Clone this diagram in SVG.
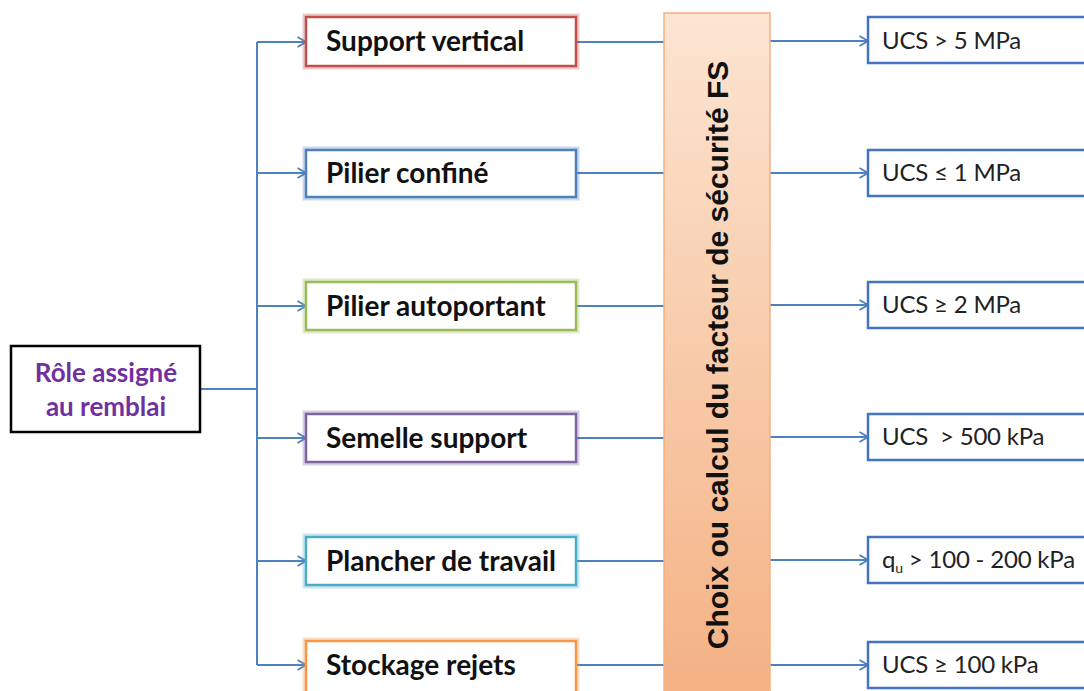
<svg xmlns="http://www.w3.org/2000/svg" width="1084" height="691" viewBox="0 0 1084 691">
<defs>
<marker id="arr" viewBox="0 0 10 12" refX="9.5" refY="6" markerWidth="10" markerHeight="12" markerUnits="userSpaceOnUse" orient="auto">
<path d="M1,1 L9.5,6 L1,11" fill="none" stroke="#4F81BD" stroke-width="1.8"/>
</marker>
<linearGradient id="og" x1="0" y1="0" x2="0" y2="1">
<stop offset="0" stop-color="#FCE5D2"/>
<stop offset="1" stop-color="#F4B183"/>
</linearGradient>
</defs>
<style>
.mid{font-family:Lato,"Liberation Sans",sans-serif;font-weight:bold;font-size:28px;fill:#111}
.rt{font-family:Lato,"Liberation Sans",sans-serif;font-size:24px;letter-spacing:-0.2px;fill:#222}
.lf{font-family:Lato,"Liberation Sans",sans-serif;font-weight:bold;font-size:26px;fill:#7030A0}
.vt{font-family:"Liberation Sans",Arial,sans-serif;font-weight:bold;font-size:30px;fill:#111}
.ln{stroke:#4F81BD;stroke-width:2;fill:none}
.glow{fill:none;stroke-width:7;stroke-opacity:0.3}
.bx{fill:#fff;stroke-width:2.5}
.rbx{fill:#fff;stroke:#4472C4;stroke-width:2.5}
</style>
<rect width="1084" height="691" fill="#fff"/>

<g id="connectors">
<path class="ln" d="M200,389 H257"/>
<path class="ln" d="M257,42 V665"/>
<path class="ln" d="M257,42 H306" marker-end="url(#arr)"/>
<path class="ln" d="M257,173 H306" marker-end="url(#arr)"/>
<path class="ln" d="M257,306 H306" marker-end="url(#arr)"/>
<path class="ln" d="M257,438 H306" marker-end="url(#arr)"/>
<path class="ln" d="M257,561 H306" marker-end="url(#arr)"/>
<path class="ln" d="M257,665 H306" marker-end="url(#arr)"/>
<path class="ln" d="M576,42 H664"/>
<path class="ln" d="M576,173 H664"/>
<path class="ln" d="M576,306 H664"/>
<path class="ln" d="M576,438 H664"/>
<path class="ln" d="M576,561 H664"/>
<path class="ln" d="M576,665 H664"/>
<path class="ln" d="M770,41 H868" marker-end="url(#arr)"/>
<path class="ln" d="M770,173 H868" marker-end="url(#arr)"/>
<path class="ln" d="M770,305 H868" marker-end="url(#arr)"/>
<path class="ln" d="M770,437 H868" marker-end="url(#arr)"/>
<path class="ln" d="M770,560 H868" marker-end="url(#arr)"/>
<path class="ln" d="M770,665 H868" marker-end="url(#arr)"/>
</g>

<g id="role">
<rect x="11" y="346" width="189" height="86" fill="#fff" stroke="#000" stroke-width="2.5"/>
<text class="lf" x="106" y="382" text-anchor="middle">Rôle assigné</text>
<text class="lf" x="106" y="416" text-anchor="middle">au remblai</text>
</g>

<g id="support-vertical">
<rect class="glow" x="306" y="17" width="270" height="49" stroke="#C0504D"/>
<rect class="bx" x="306" y="17" width="270" height="49" stroke="#C0504D"/>
<text class="mid" x="326" y="51">Support vertical</text>
</g>
<g id="pilier-confine">
<rect class="glow" x="306" y="150" width="270" height="47" stroke="#4F81BD"/>
<rect class="bx" x="306" y="150" width="270" height="47" stroke="#4F81BD"/>
<text class="mid" x="326" y="183">Pilier confiné</text>
</g>
<g id="pilier-autoportant">
<rect class="glow" x="306" y="282" width="270" height="48" stroke="#9BBB59"/>
<rect class="bx" x="306" y="282" width="270" height="48" stroke="#9BBB59"/>
<text class="mid" x="326" y="316">Pilier autoportant</text>
</g>
<g id="semelle-support">
<rect class="glow" x="306" y="414" width="270" height="48" stroke="#8064A2"/>
<rect class="bx" x="306" y="414" width="270" height="48" stroke="#8064A2"/>
<text class="mid" x="326" y="448">Semelle support</text>
</g>
<g id="plancher-de-travail">
<rect class="glow" x="306" y="537" width="270" height="48" stroke="#4BACC6"/>
<rect class="bx" x="306" y="537" width="270" height="48" stroke="#4BACC6"/>
<text class="mid" x="326" y="571">Plancher de travail</text>
</g>
<g id="stockage-rejets">
<rect class="glow" x="306" y="641" width="270" height="52" stroke="#F79646"/>
<rect class="bx" x="306" y="641" width="270" height="52" stroke="#F79646"/>
<text class="mid" x="326" y="675">Stockage rejets</text>
</g>

<g id="facteur-securite">
<rect x="664" y="13" width="106" height="685" fill="url(#og)" stroke="#F4B183" stroke-width="1.5"/>
<text class="vt" transform="translate(728,355) rotate(-90)" text-anchor="middle">Choix ou calcul du facteur de sécurité FS</text>
</g>

<g id="ucs-5mpa">
<rect class="rbx" x="868" y="17" width="230" height="46"/>
<text class="rt" x="882" y="49">UCS &gt; 5 MPa</text>
</g>
<g id="ucs-1mpa">
<rect class="rbx" x="868" y="150" width="230" height="46"/>
<text class="rt" x="882" y="181">UCS ≤ 1 MPa</text>
</g>
<g id="ucs-2mpa">
<rect class="rbx" x="868" y="282" width="230" height="46"/>
<text class="rt" x="882" y="313">UCS ≥ 2 MPa</text>
</g>
<g id="ucs-500kpa">
<rect class="rbx" x="868" y="414" width="230" height="46"/>
<text class="rt" x="882" y="445">UCS &#160;&gt; 500 kPa</text>
</g>
<g id="qu">
<rect class="rbx" x="868" y="537" width="230" height="46"/>
<text class="rt" x="882" y="568">q<tspan font-size="14" dy="5">u</tspan><tspan dy="-5"> &gt; 100 - 200 kPa</tspan></text>
</g>
<g id="ucs-100kpa">
<rect class="rbx" x="868" y="642" width="230" height="46"/>
<text class="rt" x="882" y="673">UCS ≥ 100 kPa</text>
</g>
</svg>
